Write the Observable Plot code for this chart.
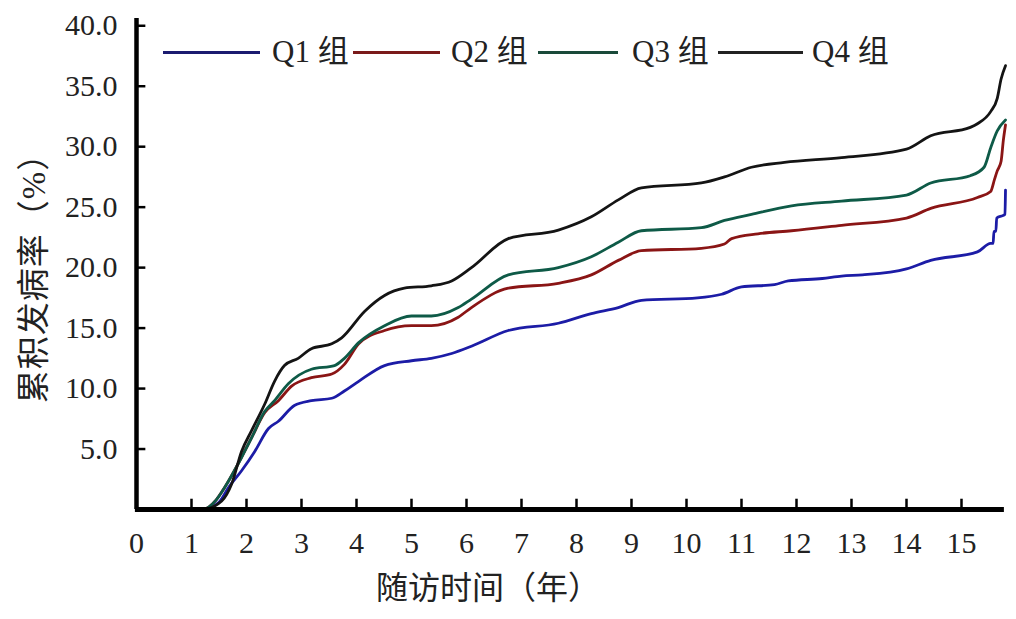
<!DOCTYPE html>
<html>
<head>
<meta charset="utf-8">
<script src="https://cdn.jsdelivr.net/npm/d3@7"></script>
<script src="https://cdn.jsdelivr.net/npm/@observablehq/plot@0.6"></script>
<style>
  html, body { margin: 0; padding: 0; background: #fff; }
  #wrap { position: relative; width: 1016px; height: 619px; overflow: hidden; }
  .lbl { position: absolute; font-family: "Liberation Serif", "Noto Sans CJK SC", serif; color: #222; white-space: nowrap; line-height: 1; }
  .lg-line { position: absolute; height: 2.5px; }
</style>
</head>
<body>
<div id="wrap"></div>
<script>
// ---- data ----
const seriesNames = ["Q1 组", "Q2 组", "Q3 组", "Q4 组"];
const seriesColors = ["#1c1ca6", "#8a1515", "#0e5a47", "#141414"];
const legendColors = ["#1b1b70", "#7a1a1a", "#1a4a3a", "#222222"];

const q1T = [0, 1.2, 1.5, 1.67, 1.91, 2.15, 2.4, 2.58, 2.87, 3.18, 3.55, 3.78, 4.04, 4.51, 5.0, 5.36, 5.73, 6.09, 6.76, 7.67, 8.27, 8.76, 9.18, 10.2, 10.64, 11.0, 11.6, 11.85, 12.47, 12.82, 13.2, 14.0, 14.44, 15.29, 15.53, 15.575, 15.59, 15.625, 15.64, 15.75, 15.79, 15.8];
const q1V = [0, 0, 0.6, 1.8, 3.2, 4.8, 6.7, 7.3, 8.6, 9.0, 9.2, 9.8, 10.6, 11.9, 12.3, 12.5, 12.9, 13.5, 14.8, 15.4, 16.2, 16.7, 17.3, 17.5, 17.8, 18.4, 18.6, 18.9, 19.1, 19.3, 19.4, 19.9, 20.6, 21.3, 22.0, 22.0, 23.0, 23.0, 24.1, 24.3, 24.4, 26.4];

const q2T = [0, 1.2, 1.45, 1.6, 1.85, 2.1, 2.33, 2.58, 2.82, 3.18, 3.55, 3.78, 4.04, 4.51, 5.0, 5.36, 5.85, 6.09, 6.76, 7.67, 8.27, 8.76, 9.18, 10.27, 10.69, 10.82, 11.3, 11.91, 12.82, 14.0, 14.44, 15.29, 15.53, 15.6, 15.65, 15.72, 15.76, 15.8];
const q2V = [0, 0, 0.8, 1.8, 3.8, 6.0, 8.0, 9.0, 10.2, 10.9, 11.2, 12.0, 13.7, 14.8, 15.2, 15.2, 15.9, 16.7, 18.3, 18.7, 19.4, 20.6, 21.4, 21.6, 21.95, 22.4, 22.8, 23.05, 23.5, 24.1, 24.9, 25.8, 26.3, 27.3, 28.0, 28.8, 30.5, 31.8];

const q3T = [0, 1.2, 1.45, 1.6, 1.91, 2.09, 2.33, 2.51, 2.76, 3.18, 3.6, 3.78, 4.04, 4.51, 5.0, 5.36, 5.85, 6.09, 6.76, 7.67, 8.27, 8.76, 9.18, 10.27, 10.69, 11.18, 11.91, 12.82, 14.0, 14.44, 15.16, 15.41, 15.53, 15.65, 15.8];
const q3V = [0, 0, 0.8, 1.8, 4.3, 5.9, 8.1, 9.0, 10.4, 11.6, 11.9, 12.5, 13.8, 15.2, 16.0, 16.0, 16.7, 17.4, 19.4, 20.0, 20.9, 22.1, 23.05, 23.3, 23.9, 24.4, 25.1, 25.5, 26.0, 27.0, 27.6, 28.3, 29.9, 31.3, 32.2];

const q4T = [0, 1.2, 1.55, 1.73, 1.91, 2.09, 2.33, 2.51, 2.69, 2.94, 3.18, 3.55, 3.73, 4.15, 4.51, 4.87, 5.36, 5.73, 6.09, 6.76, 7.67, 8.27, 8.76, 9.18, 10.27, 10.69, 11.18, 11.78, 12.82, 14.0, 14.44, 15.16, 15.29, 15.53, 15.65, 15.72, 15.8];
const q4V = [0, 0, 0.7, 2.1, 4.8, 6.5, 8.7, 10.6, 11.9, 12.5, 13.3, 13.7, 14.2, 16.4, 17.7, 18.3, 18.5, 18.9, 20.0, 22.4, 23.1, 24.2, 25.6, 26.6, 27.0, 27.5, 28.3, 28.7, 29.1, 29.8, 30.9, 31.6, 31.9, 32.9, 34.0, 35.6, 36.7];

const xTicks = [0, 1, 2, 3, 4, 5, 6, 7, 8, 9, 10, 11, 12, 13, 14, 15];
const yTicks = [5, 10, 15, 20, 25, 30, 35, 40];
const xTitle = "随访时间（年）";
const yTitle = "累积发病率（%）";

// ---- build table ----
const allT = [q1T, q2T, q3T, q4T];
const allV = [q1V, q2V, q3V, q4V];
const rows = [];
allT.forEach((ts, s) => ts.forEach((t, i) => rows.push({series: seriesNames[s], t, v: allV[s][i]})));

const font = '"Liberation Serif", "Noto Sans CJK SC", serif';

const chart = Plot.plot({
  width: 1016,
  height: 619,
  marginLeft: 136,
  marginRight: 11,
  marginTop: 18,
  marginBottom: 110,
  style: {fontSize: "30px", fontFamily: font, color: "#222", background: "#fff", overflow: "visible"},
  x: {domain: [0, 15.8]},
  y: {domain: [0, 40.6]},
  color: {domain: seriesNames, range: seriesColors},
  marks: [
    Plot.line(rows, {x: "t", y: "v", z: "series", stroke: "series", strokeWidth: 2.8, strokeLinejoin: "round", curve: "monotone-x"}),
    Plot.ruleX(xTicks, {y1: 0, y2: 0.85, stroke: "#000", strokeWidth: 2.5}),
    Plot.ruleY(yTicks, {x1: 0, x2: 0.17, stroke: "#000", strokeWidth: 2.5}),
    Plot.ruleX([0], {y1: 0, y2: 40.6, stroke: "#000", strokeWidth: 4.5}),
    Plot.ruleY([0], {x1: -0.02, x2: 15.78, stroke: "#000", strokeWidth: 5}),
    Plot.axisX(xTicks, {tickSize: 0, tickPadding: 22, tickFormat: d => String(d), label: null, fill: "#222", fontSize: 30}),
    Plot.axisY(yTicks, {tickSize: 0, tickPadding: 19, tickFormat: d => d.toFixed(1), label: null, fill: "#222", fontSize: 30})
  ]
});

const wrap = document.getElementById("wrap");
wrap.appendChild(chart);

// ---- titles ----
const xt = document.createElement("div");
xt.className = "lbl";
xt.textContent = xTitle;
xt.style.fontSize = "32px";
xt.style.left = "376px";
xt.style.top = "572px";
wrap.appendChild(xt);

const yt = document.createElement("div");
yt.className = "lbl";
yt.textContent = yTitle;
yt.style.fontSize = "33px";
yt.style.letterSpacing = "1px";
yt.style.left = "34px";
yt.style.top = "270px";
yt.style.transform = "translate(-50%, -50%) rotate(-90deg)";
wrap.appendChild(yt);

// ---- legend ----
const legendLines = [[163, 97], [353, 87], [538, 80], [718, 85]];
const legendTexts = [272, 451, 632, 812];
seriesNames.forEach((name, i) => {
  const ln = document.createElement("div");
  ln.className = "lg-line";
  ln.style.left = legendLines[i][0] + "px";
  ln.style.width = legendLines[i][1] + "px";
  ln.style.top = "51px";
  ln.style.background = legendColors[i];
  wrap.appendChild(ln);
  const tx = document.createElement("div");
  tx.className = "lbl";
  tx.textContent = name;
  tx.style.fontSize = "31px";
  tx.style.left = legendTexts[i] + "px";
  tx.style.top = "36px";
  wrap.appendChild(tx);
});
</script>
</body>
</html>
